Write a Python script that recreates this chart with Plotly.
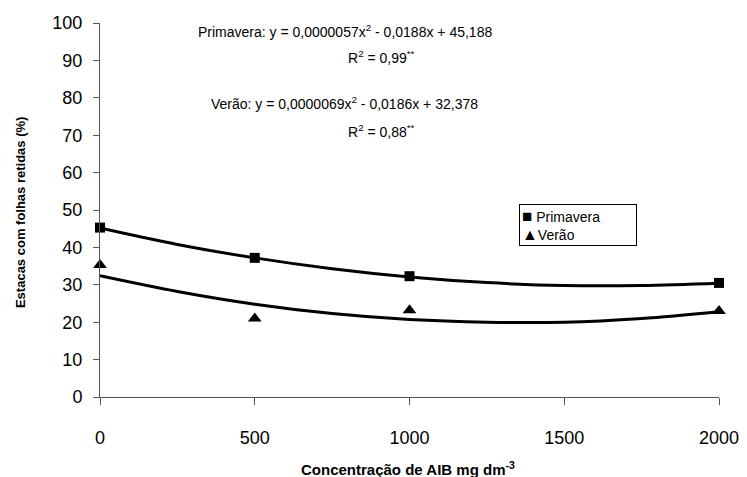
import plotly.graph_objects as go

# Observed data
conc = [0, 500, 1000, 2000]
primavera = [45.3, 37.2, 32.3, 30.5]
verao = [35.3, 21.0, 23.2, 23.0]

# Fitted curves
fit_x = [0, 250, 500, 750, 1000, 1250, 1500, 1750, 2000]
fit_primavera = [45.2, 40.8, 37.2, 34.3, 32.1, 30.6, 29.8, 29.8, 30.4]
fit_verao = [32.4, 28.2, 24.8, 22.3, 20.7, 20.0, 20.0, 21.0, 22.8]

x_ticks = [0, 500, 1000, 1500, 2000]
y_ticks = [0, 10, 20, 30, 40, 50, 60, 70, 80, 90, 100]

FONT = "Liberation Sans, Arial, sans-serif"
OFF = 8  # page body margin offset
W, H = 747, 477
L = 100 - OFF
T = 22.5 - OFF
R = W - (719.5 - OFF)
B = H - (397.5 - OFF)
PW, PH = W - L - R, H - T - B


def px(x):
    return (x - OFF - L) / PW


def py(y):
    return 1 - (y - OFF - T) / PH


fig = go.Figure()
fig.add_trace(go.Scatter(x=fit_x, y=fit_primavera, mode="lines", line=dict(color="black", width=3, shape="spline"),
                         showlegend=False, hoverinfo="skip"))
fig.add_trace(go.Scatter(x=fit_x, y=fit_verao, mode="lines", line=dict(color="black", width=3, shape="spline"),
                         showlegend=False, hoverinfo="skip"))
fig.add_trace(go.Scatter(x=conc, y=primavera, mode="markers", name="Primavera", showlegend=False,
                         marker=dict(symbol="square", size=10, color="black"), cliponaxis=False))
fig.add_trace(go.Scatter(x=conc, y=verao, mode="markers", name="Verão", showlegend=False,
                         marker=dict(symbol="triangle-up", size=12, color="black"), cliponaxis=False))

fig.update_layout(
    width=W, height=H,
    margin=dict(l=L, r=R, t=T, b=B, autoexpand=False),
    paper_bgcolor="white", plot_bgcolor="white",
    font=dict(family=FONT, color="black"),
    showlegend=False,
    xaxis=dict(range=[0, 2000], tickvals=x_ticks, ticks="outside", ticklen=7, tickcolor="#555",
               showline=True, linecolor="#555", linewidth=1, showgrid=False, zeroline=False,
               tickfont=dict(size=18), ticklabelstandoff=17, automargin=False),
    yaxis=dict(range=[0, 100], tickvals=y_ticks, ticks="outside", ticklen=6, tickcolor="#555",
               showline=True, linecolor="#555", linewidth=1, showgrid=False, zeroline=False,
               tickfont=dict(size=18), ticklabelstandoff=7, automargin=False),
)

# Axis titles
fig.add_annotation(text="<b>Concentração de AIB mg dm<sup>-3</sup></b>", xref="paper", yref="paper",
                   x=px(408), y=py(469), showarrow=False, font=dict(size=15, family=FONT),
                   xanchor="center", yanchor="middle")
fig.add_annotation(text="<b>Estacas com folhas retidas (%)</b>", xref="paper", yref="paper",
                   x=px(21), y=py(213), showarrow=False, textangle=-90, font=dict(size=13, family=FONT),
                   xanchor="center", yanchor="middle")

# Legend box
fig.add_annotation(text="<span style='font-size:17px'>■</span> Primavera<br><span style='font-size:16px'>▲</span>Verão",
                   xref="paper", yref="paper",
                   x=px(519), y=py(204), xanchor="left", yanchor="top", align="left",
                   showarrow=False, font=dict(size=14, family=FONT),
                   bordercolor="black", borderwidth=1, borderpad=2, bgcolor="white", width=112)

ann = [
    ("Primavera: y = 0,0000057x<sup>2</sup> - 0,0188x + 45,188", 345, 31),
    ("R<sup>2</sup> = 0,99<sup>**</sup>", 382, 57),
    ("Verão: y = 0,0000069x<sup>2</sup> - 0,0186x + 32,378", 345, 103),
    ("R<sup>2</sup> = 0,88<sup>**</sup>", 382, 131),
]
for text, ax, ay in ann:
    fig.add_annotation(text=text, xref="paper", yref="paper", x=px(ax), y=py(ay),
                       showarrow=False, font=dict(size=14, family=FONT), xanchor="center", yanchor="middle")

fig.write_html("out.html")
